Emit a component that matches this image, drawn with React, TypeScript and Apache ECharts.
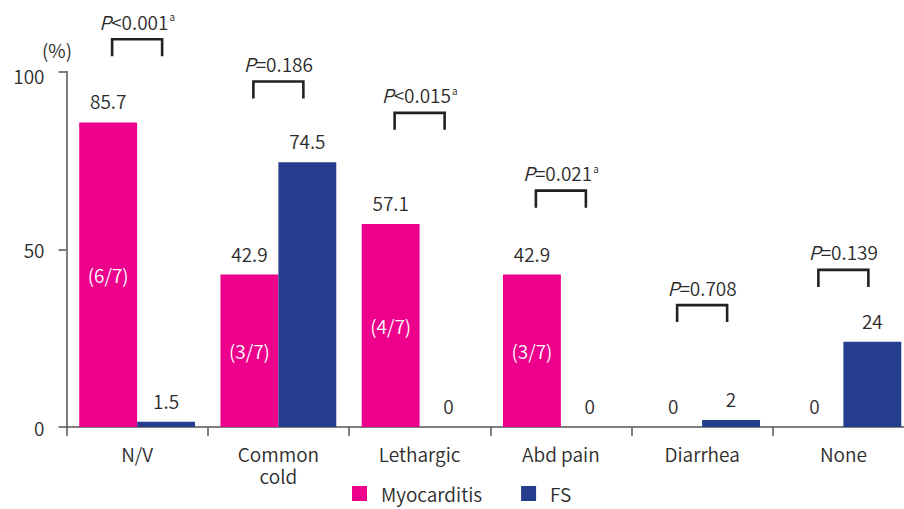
import React, { useEffect, useRef } from "react";
import * as echarts from "echarts";

const categories = ["N/V", "Common\ncold", "Lethargic", "Abd pain", "Diarrhea", "None"];
const myocarditis = [85.7, 42.9, 57.1, 42.9, 0, 0];
const fs = [1.5, 74.5, 0, 0, 2, 24];
const fractions = ["(6/7)", "(3/7)", "(4/7)", "(3/7)", "", ""];
const pOperators = ["<", "=", "<", "=", "=", "="];
const pValues = ["0.001", "0.186", "0.015", "0.021", "0.708", "0.139"];
const pFootnote = ["a", "", "a", "a", "", ""];
const bracketLevels = [109.1, 97.2, 88.4, 66.5, 34.3, 44.2];
const yTicks = [0, 50, 100];

const FONT = "'Noto Sans CJK KR', 'Noto Sans', sans-serif";
const WEIGHT = 350;
const MAGENTA = "#EC008C";
const BLUE = "#253D8D";
const TEXT = "#2b2b2b";
const AXIS = "#555555";

export default function App() {
  const ref = useRef<HTMLDivElement>(null);
  useEffect(() => {
    if (!ref.current) return;
    const chart = echarts.init(ref.current, null, { renderer: "svg" });
    const base = { fontSize: 19, fontFamily: FONT, fontWeight: WEIGHT, color: TEXT };
    const rich = {
      i: { ...base, fontStyle: "italic" },
      t: { ...base },
      s: { ...base, fontSize: 10, verticalAlign: "top", padding: [0, 0, 0, 1] },
    };
    const pText = (i: number) =>
      `{i|P}{t|${pOperators[i]}${pValues[i]}}` + (pFootnote[i] ? `{s|${pFootnote[i]}}` : "");
    const option: any = {
      animation: false,
      textStyle: { fontFamily: FONT, fontWeight: WEIGHT },
      grid: { left: 66.5, right: 0, top: 71.6, bottom: 82, containLabel: false },
      legend: {
        data: ["Myocarditis", "FS"],
        left: 352,
        top: 484,
        padding: 0,
        icon: "rect",
        itemWidth: 15,
        itemHeight: 15,
        itemGap: 39,
        textStyle: { ...base, padding: [0, 0, 0, 9] },
      },
      xAxis: [
        {
          type: "category",
          data: categories,
          axisLine: { lineStyle: { color: AXIS, width: 1.5 } },
          axisTick: { show: true, length: 9, lineStyle: { color: AXIS, width: 1.5 } },
          axisLabel: { ...base, margin: 15, lineHeight: 22 },
        },
        { type: "category", data: categories, show: false },
      ],
      yAxis: {
        type: "value",
        min: 0,
        max: 100,
        interval: 50,
        axisLine: { show: true, lineStyle: { color: AXIS, width: 1.5 } },
        axisTick: { show: true, length: 8, lineStyle: { color: AXIS, width: 1.5 } },
        splitLine: { show: false },
        axisLabel: {
          ...base,
          margin: 22,
          formatter: (v: number) => (yTicks.includes(v) ? (v === 100 ? `{d|${v}}` : `${v}`) : ""),
          rich: { d: { ...base, padding: [8, 0, 0, 0] } },
        },
      },
      graphic: [
        {
          type: "text",
          left: 42,
          top: 40,
          style: { text: "(%)", fontSize: 19, fill: TEXT, fontFamily: FONT, fontWeight: WEIGHT },
        },
      ],
      series: [
        {
          name: "Myocarditis",
          type: "bar",
          data: myocarditis,
          barGap: "0%",
          barCategoryGap: "18%",
          itemStyle: { color: MAGENTA },
          label: { show: true, position: "top", distance: 12, ...base },
        },
        {
          name: "FS",
          type: "bar",
          data: fs,
          barGap: "0%",
          barCategoryGap: "18%",
          itemStyle: { color: BLUE },
          label: { show: true, position: "top", distance: 12, ...base },
        },
        {
          name: "frac",
          type: "bar",
          xAxisIndex: 1,
          data: myocarditis,
          barGap: "0%",
          barCategoryGap: "18%",
          silent: true,
          itemStyle: { color: "rgba(0,0,0,0)" },
          label: {
            show: true,
            position: "inside",
            ...base,
            color: "#ffffff",
            formatter: (p: any) => fractions[p.dataIndex],
          },
        },
        {
          name: "frac2",
          type: "bar",
          xAxisIndex: 1,
          data: fs.map(() => 0),
          barGap: "0%",
          barCategoryGap: "18%",
          silent: true,
          itemStyle: { color: "rgba(0,0,0,0)" },
        },
        {
          name: "pvals",
          type: "custom",
          silent: true,
          clip: false,
          data: bracketLevels.map((lv, i) => [i, lv]),
          renderItem: (params: any, api: any) => {
            const idx = api.value(0);
            const p = api.coord([idx, api.value(1)]);
            const hw = 25;
            const leg = 17;
            return {
              type: "group",
              children: [
                {
                  type: "polyline",
                  shape: {
                    points: [
                      [p[0] - hw, p[1] + leg],
                      [p[0] - hw, p[1]],
                      [p[0] + hw, p[1]],
                      [p[0] + hw, p[1] + leg],
                    ],
                  },
                  style: { stroke: "#222222", lineWidth: 2.6, fill: null },
                },
                {
                  type: "text",
                  x: p[0],
                  y: p[1] - 18,
                  style: {
                    text: pText(idx),
                    rich,
                    fontSize: 19,
                    fontFamily: FONT,
                    fontWeight: WEIGHT,
                    fill: TEXT,
                    align: "center",
                    verticalAlign: "middle",
                  },
                },
              ],
            };
          },
        },
      ],
    };
    chart.setOption(option);
    return () => chart.dispose();
  }, []);
  return (
    <div
      style={{ position: "fixed", left: 0, top: 0, width: 904, height: 509, overflow: "hidden", background: "#fff" }}
    >
      <div ref={ref} style={{ width: 914, height: 509 }} />
    </div>
  );
}
